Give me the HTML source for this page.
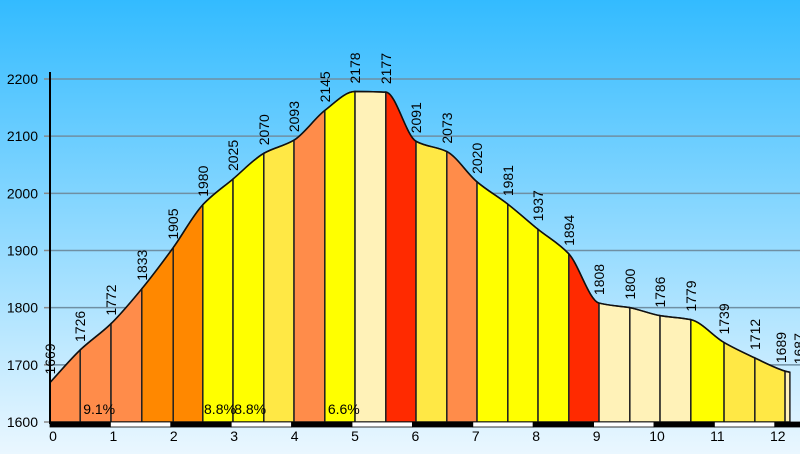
<!DOCTYPE html>
<html><head><meta charset="utf-8"><style>
body{margin:0;width:800px;height:454px;overflow:hidden;font-family:"Liberation Sans",sans-serif}
</style></head><body>
<svg id="c" width="800" height="454" xmlns="http://www.w3.org/2000/svg">
<defs><linearGradient id="sky" x1="0" y1="0" x2="0" y2="1"><stop offset="0" stop-color="#33bbff"/><stop offset="1" stop-color="#eaf7ff"/></linearGradient></defs>
<rect width="800" height="454" fill="url(#sky)"/>
</svg>
<script>
const distances=[0,0.50,1.01,1.52,2.04,2.53,3.03,3.54,4.04,4.55,5.05,5.56,6.06,6.57,7.07,7.58,8.08,8.59,9.09,9.60,10.10,10.61,11.16,11.67,12.17,12.25];
const elevations=[1669,1726,1772,1833,1905,1980,2025,2070,2093,2145,2178,2177,2091,2073,2020,1981,1937,1894,1808,1800,1786,1779,1739,1712,1689,1687];
const segColors=["#ff8c4a","#ff8c4a","#ff8c4a","#ff8800","#ff8800","#ffff00","#ffff00","#ffe845","#ff8c4a","#ffff00","#fff2b8","#ff2a00","#ffe845","#ff8c4a","#ffff00","#ffff00","#ffff00","#ff2a00","#fff2b8","#fff2b8","#fff2b8","#ffff00","#ffe845","#ffe845","#fff2b8"];
const yTicks=[1600,1700,1800,1900,2000,2100,2200];
const xTicks=[0,1,2,3,4,5,6,7,8,9,10,11,12];
const gradeLabels=["9.1%","8.8%","8.8%","6.6%"];
const gradePos=[0.55,2.55,3.05,4.6];
const NS="http://www.w3.org/2000/svg";
const svg=document.getElementById('c');
const X=d=>50+d*60.4, Y=v=>422-(v-1600)*0.5717;
function mk(t,a,p){const e=document.createElementNS(NS,t);for(const k in a)e.setAttribute(k,a[k]);(p||svg).appendChild(e);return e;}
yTicks.forEach(v=>{
 if(v>1600){const g=mk('line',{x1:50,x2:800,y1:Y(v),y2:Y(v),stroke:'#6f8fa3','stroke-width':1.5});
 
 }
 const tk=mk('line',{x1:44,x2:50,y1:Y(v),y2:Y(v),stroke:'#888','stroke-width':1.5});
 
 
 const t=mk('text',{x:38,y:Y(v)+5,'text-anchor':'end','font-size':14,fill:'#000'});t.textContent=v;
 
 
});
const n=distances.length,px=distances.map(X),py=elevations.map(Y);
const m=[];for(let i=0;i<n;i++){if(i==0)m.push((py[1]-py[0])/(px[1]-px[0]));else if(i==n-1)m.push((py[i]-py[i-1])/(px[i]-px[i-1]));else{const a=(py[i]-py[i-1])/(px[i]-px[i-1]),b=(py[i+1]-py[i])/(px[i+1]-px[i]);m.push(a*b<=0?0:2/(1/a+1/b));}}
let outline='M'+px[0]+','+py[0];
for(let i=0;i<n-1;i++){
 const h=(px[i+1]-px[i])/3;
 const c=`C${px[i]+h},${py[i]+m[i]*h} ${px[i+1]-h},${py[i+1]-m[i+1]*h} ${px[i+1]},${py[i+1]}`;
 outline+=c;
 const s=mk('path',{d:`M${px[i]},422 L${px[i]},${py[i]} ${c} L${px[i+1]},422Z`,fill:segColors[i],stroke:'#222','stroke-width':1.5});
 
 
}
const o=mk('path',{d:outline,fill:'none',stroke:'#111','stroke-width':1.5});


const lx=px.map(x=>x+5);
for(let i=n-1;i>0;i--){if(lx[i]-lx[i-1]<16){lx[i-1]=lx[i]-9;lx[i]=lx[i-1]+18;}}
elevations.forEach((v,i)=>{
 const x=lx[i],y=py[i]-8;
 const t=mk('text',{x:x,y:y,transform:`rotate(-90 ${x} ${y})`,'font-size':14,fill:'#000'});t.textContent=v;
 
 
});
gradeLabels.forEach((g,i)=>{const t=mk('text',{x:X(gradePos[i]),y:414,'font-size':14,fill:'#000'});t.textContent=g;
 
 });
const ax=mk('line',{x1:50,x2:50,y1:72,y2:424,stroke:'#000','stroke-width':2});


for(let k=0;k<14;k++){const r=mk('rect',{x:X(k),y:422,width:60.4,height:5,fill:k%2?'#fff':'#000',stroke:'#000','stroke-width':0.8});
 
 }
xTicks.forEach(k=>{const t=mk('text',{x:X(k)+3,y:441,'text-anchor':'middle','font-size':14,fill:'#000'});t.textContent=k;
 
 });
</script>
</body></html>
